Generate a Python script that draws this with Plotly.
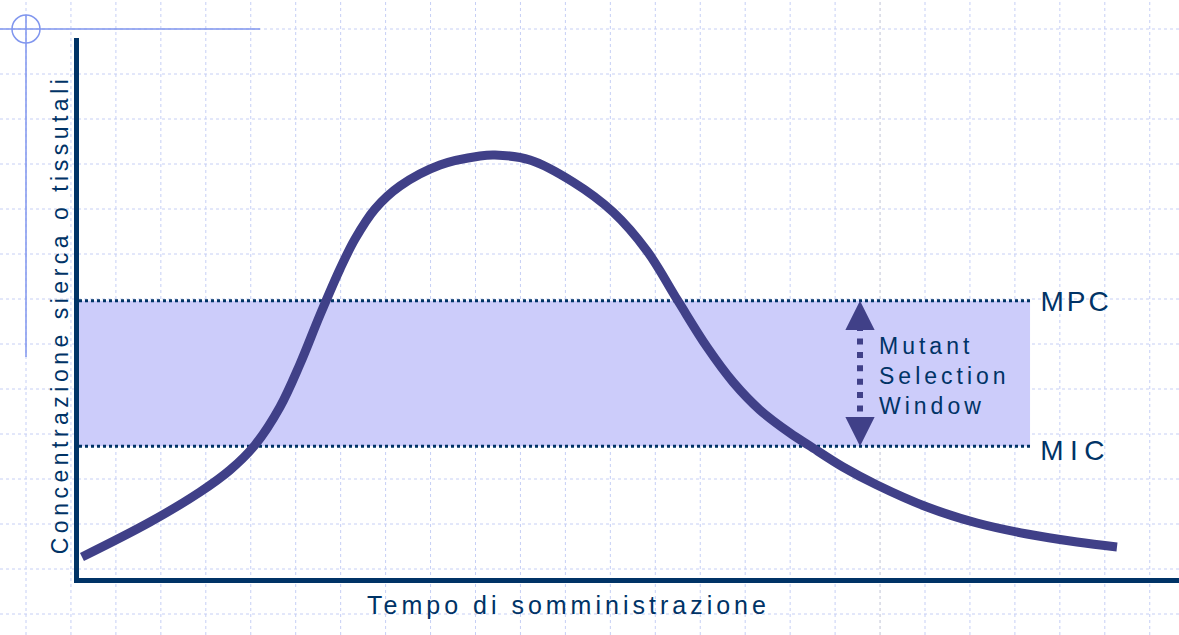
import plotly.graph_objects as go

# ---- data ----
time_h = [0.065, 1.549, 2.640, 3.295, 3.840, 4.385, 4.822, 5.258, 5.695, 6.022, 6.458,
          7.004, 7.876, 8.749, 9.076, 9.840, 10.778, 11.651, 12.393, 13.069, 13.702,
          14.269, 14.858, 15.513, 15.949, 16.669, 17.411, 18.502, 19.593, 20.684,
          21.775, 22.647]
conc = [0.467, 1.244, 1.911, 2.400, 2.956, 3.800, 4.756, 5.844, 6.867, 7.533, 8.200,
        8.711, 9.178, 9.378, 9.400, 9.289, 8.800, 8.133, 7.267, 6.156, 5.133,
        4.356, 3.733, 3.222, 2.933, 2.467, 2.067, 1.578, 1.222, 0.978,
        0.800, 0.689]
mic_level = 2.93
mpc_level = 6.16
window_x = [0, 20.75]
arrow_x = 17.04
arrow_shaft_y = [5.62, 3.62]
labels = {"MPC": "MPC", "MIC": "MIC", "window": "Mutant<br>Selection<br>Window"}
x_title = "Tempo di somministrazione"
y_title = "Concentrazione sierca o tissutali"

NAVY = "#003366"
CURVE = "#404088"
BAND = "#ccccfa"
GRID = "#c6cff5"

W, H = 1179, 635
L, R, T, B = 79, 0, 38, 57
PW, PH = W - L - R, H - T - B


def px_x(p):
    return (p - L) / PW


def px_y(p):
    return (H - B - p) / PH


fig = go.Figure()

fig.add_trace(go.Scatter(x=window_x, y=[mic_level, mic_level], mode="lines",
                         line=dict(color=NAVY, width=3, dash="dot"), hoverinfo="skip"))
fig.add_trace(go.Scatter(x=window_x, y=[mpc_level, mpc_level], mode="lines",
                         fill="tonexty", fillcolor=BAND,
                         line=dict(color=NAVY, width=3, dash="dot"), hoverinfo="skip"))
fig.add_trace(go.Scatter(x=time_h, y=conc, mode="lines",
                         line=dict(color=CURVE, width=9, shape="spline", smoothing=1.0)))
fig.add_trace(go.Scatter(x=[arrow_x, arrow_x], y=arrow_shaft_y, mode="lines",
                         line=dict(color=CURVE, width=6, dash="6px,7.4px"), hoverinfo="skip"))

shapes = []
# background dotted grid (decoration)
k = 0
while 26 + 44.95 * k < W:
    xp = 26 + 44.95 * k
    col = "#c0c3d6" if abs(xp - 879) < 3 else GRID
    shapes.append(dict(type="line", xref="paper", yref="paper", layer="below",
                       x0=px_x(xp), x1=px_x(xp), y0=px_y(H), y1=px_y(0),
                       line=dict(color=col, width=1, dash="dot")))
    k += 1
k = 0
while 29 + 45 * k < H:
    yp = 29 + 45 * k
    shapes.append(dict(type="line", xref="paper", yref="paper", layer="below",
                       x0=px_x(0), x1=px_x(W), y0=px_y(yp), y1=px_y(yp),
                       line=dict(color=GRID, width=1, dash="dot")))
    k += 1
# corner crosshair decoration
DECO = "#8096ee"
shapes.append(dict(type="line", xref="paper", yref="paper", x0=px_x(0), x1=px_x(260),
                   y0=px_y(29), y1=px_y(29), line=dict(color=DECO, width=1.5)))
shapes.append(dict(type="line", xref="paper", yref="paper", x0=px_x(26), x1=px_x(26),
                   y0=px_y(15), y1=px_y(357), line=dict(color=DECO, width=1.5)))
shapes.append(dict(type="circle", xref="paper", yref="paper", x0=px_x(12), x1=px_x(40),
                   y0=px_y(43), y1=px_y(15), line=dict(color=DECO, width=1.5)))

FONT = "Liberation Sans, Arial, sans-serif"
annotations = [
    dict(text=y_title, xref="paper", yref="paper", x=px_x(45), y=px_y(315),
         textangle=-90, showarrow=False, font=dict(family=FONT, size=23, color=NAVY)),
    dict(text=x_title, xref="paper", yref="paper", x=px_x(568), y=px_y(621),
         showarrow=False, font=dict(family=FONT, size=25, color=NAVY)),
    dict(text=labels["window"], x=17.40, y=4.49, xanchor="left", align="left",
         showarrow=False, font=dict(family=FONT, size=23, color=NAVY)),
    dict(text=labels["MPC"], x=21.03, y=mpc_level - 0.02, xanchor="left",
         showarrow=False, font=dict(family=FONT, size=28, color=NAVY)),
    dict(text=labels["MIC"], x=21.14, y=mic_level - 0.1, xanchor="left",
         showarrow=False, font=dict(family=FONT, size=28, color=NAVY)),
    dict(text="", x=arrow_x, y=mpc_level, ax=0, ay=14, showarrow=True, arrowhead=2,
         arrowwidth=4.5, arrowsize=1.3, arrowcolor=CURVE, standoff=0),
    dict(text="", x=arrow_x, y=mic_level, ax=0, ay=-14, showarrow=True, arrowhead=2,
         arrowwidth=4.5, arrowsize=1.3, arrowcolor=CURVE, standoff=0),
]

axis_common = dict(showline=True, linecolor=NAVY, linewidth=5, showgrid=False,
                   zeroline=False, showticklabels=False, ticks="", fixedrange=True)
fig.update_layout(
    width=W, height=H, margin=dict(l=L, r=R, t=T, b=B, pad=0),
    paper_bgcolor="white", plot_bgcolor="rgba(0,0,0,0)", showlegend=False,
    xaxis=dict(range=[0, 24], **axis_common),
    yaxis=dict(range=[0, 12], **axis_common),
    shapes=shapes, annotations=annotations,
)

post = """
document.body.style.margin = '0';
document.body.style.overflow = 'hidden';
var sp = [4.5, 4, 4, 3, 6.5];
document.querySelectorAll('g.annotation').forEach(function(g){
  var i = +g.getAttribute('data-index');
  if (i < sp.length) {
    var t = g.querySelector('text.annotation-text');
    if (t) t.style.letterSpacing = sp[i] + 'px';
  }
});
"""

fig.write_html("out.html", config={"displayModeBar": False}, post_script=post)
